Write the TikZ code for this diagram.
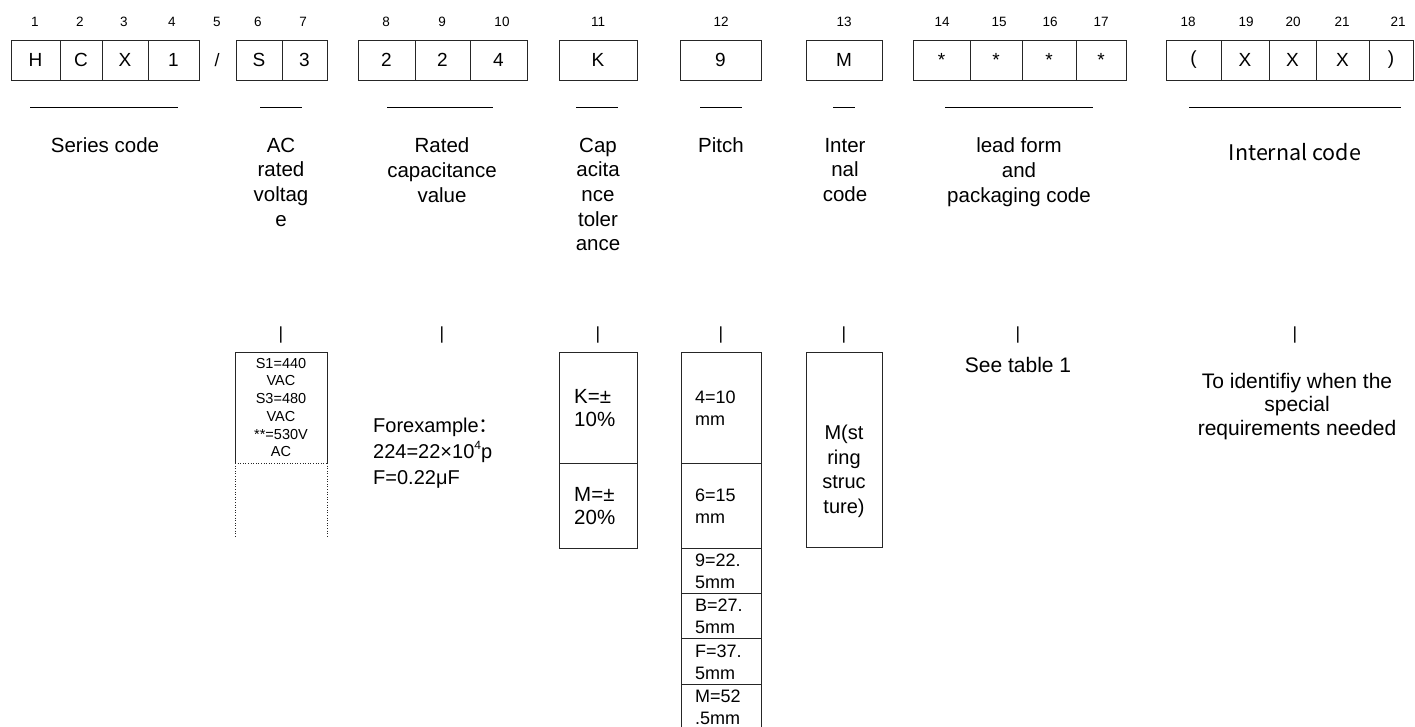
\documentclass[tikz,border=0pt]{standalone}
\usepackage{fontspec}
\setmainfont{Liberation Sans}
\newfontfamily\cjkfont{Noto Sans CJK SC}
\begin{document}
\begin{tikzpicture}[x=1pt,y=-1pt,
  cell/.style={draw=black!85, line width=0.8pt, minimum height=40pt, inner sep=0pt, font=\fontsize{19}{19}\selectfont},
  num/.style={inner sep=0pt, font=\fontsize{13.5}{13.5}\selectfont},
  lbl/.style={inner sep=0pt, anchor=north, align=center, font=\fontsize{20.5}{24.6}\selectfont},
  uline/.style={line width=0.8pt, black},
  bar/.style={inner sep=0pt, font=\fontsize{17.5}{17.5}\selectfont},
  frame/.style={draw=black!85, line width=0.8pt},
  dotframe/.style={draw=black!85, line width=0.6pt, dotted},
  boxtxt/.style={inner sep=0pt, anchor=west, align=left, font=\fontsize{20.5}{23.5}\selectfont},
  pitchtxt/.style={inner sep=0pt, anchor=west, align=left, font=\fontsize{18}{22}\selectfont}
]
\useasboundingbox (0,0) rectangle (1415,727);
\clip (0,0) rectangle (1415,727);

% position numbers
\node[num] (n1) at (35,22) {1};
\node[num] (n2) at (80,22) {2};
\node[num] (n3) at (124,22) {3};
\node[num] (n4) at (172,22) {4};
\node[num] (n5) at (217,22) {5};
\node[num] (n6) at (258,22) {6};
\node[num] (n7) at (303,22) {7};
\node[num] (n8) at (386,22) {8};
\node[num] (n9) at (442,22) {9};
\node[num] (n10) at (502,22) {10};
\node[num] (n11) at (598,22) {11};
\node[num] (n12) at (721,22) {12};
\node[num] (n13) at (844,22) {13};
\node[num] (n14) at (942,22) {14};
\node[num] (n15) at (999,22) {15};
\node[num] (n16) at (1050,22) {16};
\node[num] (n17) at (1101,22) {17};
\node[num] (n18) at (1188,22) {18};
\node[num] (n19) at (1246,22) {19};
\node[num] (n20) at (1293,22) {20};
\node[num] (n21) at (1342,22) {21};
\node[num] (n22) at (1398,22) {21};

% code cells
\node[cell, minimum width=49pt] (c1) at (35.5,60) {H};
\node[cell, minimum width=42pt] (c2) at (81,60) {C};
\node[cell, minimum width=46pt] (c3) at (125,60) {X};
\node[cell, minimum width=51pt] (c4) at (173.5,60) {1};
\node[inner sep=0pt, font=\fontsize{18}{18}\selectfont] (c5) at (217,60) {/};
\node[cell, minimum width=46pt] (c6) at (259,60) {S};
\node[cell, minimum width=45pt] (c7) at (304.5,60) {3};
\node[cell, minimum width=57pt] (c8) at (386.5,60) {2};
\node[cell, minimum width=55pt] (c9) at (442.5,60) {2};
\node[cell, minimum width=57pt] (c10) at (498.5,60) {4};
\node[cell, minimum width=78pt] (c11) at (598,60) {K};
\node[cell, minimum width=81pt] (c12) at (720.5,60) {9};
\node[cell, minimum width=76pt] (c13) at (844,60) {M};
\node[cell, minimum width=57pt] (c14) at (941.5,60) {*};
\node[cell, minimum width=52pt] (c15) at (996,60) {*};
\node[cell, minimum width=54pt] (c16) at (1049,60) {*};
\node[cell, minimum width=50pt] (c17) at (1101,60) {*};
\node[cell, minimum width=55pt] (c18) at (1193.5,60) {(};
\node[cell, minimum width=48pt] (c19) at (1245,60) {X};
\node[cell, minimum width=47pt] (c20) at (1292.5,60) {X};
\node[cell, minimum width=53pt] (c21) at (1342.5,60) {X};
\node[cell, minimum width=44pt] (c22) at (1391,60) {)};

% underlines
\draw[uline] (30,107) -- (178,107);
\draw[uline] (260,107) -- (302,107);
\draw[uline] (387,107) -- (493,107);
\draw[uline] (576,107) -- (618,107);
\draw[uline] (700,107) -- (742,107);
\draw[uline] (833,107) -- (855,107);
\draw[uline] (945,107) -- (1093,107);
\draw[uline] (1189,107) -- (1401,107);

% labels
\node[lbl] (l1) at (105,137.8) {Series code};
\node[lbl] (l2) at (281,137.8) {AC\\rated\\voltag\\e};
\node[lbl] (l3) at (442,137.8) {Rated\\capacitance\\value};
\node[lbl] (l4) at (598,137.8) {Cap\\acita\\nce\\toler\\ance};
\node[lbl] (l5) at (721,137.8) {Pitch};
\node[lbl] (l6) at (845,137.8) {Inter\\nal\\code};
\node[lbl] (l7) at (1019,137.8) {lead form\\and\\packaging code};
\node[inner sep=0pt, font=\cjkfont\fontsize{21.5}{24}\selectfont] (l8) at (1295,152) {Internal code};

% bars
\node[bar] (b1) at (281,335.5) {|};
\node[bar] (b2) at (442,335.5) {|};
\node[bar] (b3) at (598,335.5) {|};
\node[bar] (b4) at (721,335.5) {|};
\node[bar] (b5) at (844,335.5) {|};
\node[bar] (b6) at (1018,335.5) {|};
\node[bar] (b7) at (1295,335.5) {|};

% AC rated voltage box
\draw[frame] (235,463) -- (235,352) -- (327,352) -- (327,463);
\draw[dotframe] (235,463) -- (327,463);
\draw[dotframe] (235,463) -- (235,537);
\draw[dotframe] (327,463) -- (327,537);
\node[inner sep=0pt, align=center, font=\fontsize{14.5}{17.7}\selectfont] (v1) at (281,407.5) {S1=440\\VAC\\S3=480\\VAC\\**=530V\\AC};

% Rated capacitance example
\node[inner sep=0pt, anchor=north west, align=left, font=\fontsize{20}{26}\selectfont] (ex) at (373,417.8) {Forexample{\cjkfont ：}\\224=22×10\raisebox{0.45em}{\fontsize{12}{12}\selectfont 4}p\\F=0.22μF};

% Tolerance box
\draw[frame] (559,352) rectangle (637,548);
\draw[frame] (559,463) -- (637,463);
\node[boxtxt] (k1) at (574,408) {K=±\\10\%};
\node[boxtxt] (k2) at (574,506) {M=±\\20\%};

% Pitch box
\draw[frame] (681,352) rectangle (761,740);
\draw[frame] (681,463) -- (761,463);
\draw[frame] (681,548) -- (761,548);
\draw[frame] (681,593) -- (761,593);
\draw[frame] (681,638) -- (761,638);
\draw[frame] (681,684) -- (761,684);
\node[pitchtxt] (p1) at (695,408.5) {4=10\\mm};
\node[pitchtxt] (p2) at (695,506.5) {6=15\\mm};
\node[pitchtxt] (p3) at (695,571) {9=22.\\5mm};
\node[pitchtxt] (p4) at (695,616) {B=27.\\5mm};
\node[pitchtxt] (p5) at (695,662) {F=37.\\5mm};
\node[pitchtxt] (p6) at (695,707.5) {M=52\\.5mm};

% Internal code box
\draw[frame] (806,352) rectangle (882,547);
\node[inner sep=0pt, align=center, font=\fontsize{20}{24.5}\selectfont] (m1) at (844,471.5) {M(st\\ring\\struc\\ture)};

% lead form text
\node[inner sep=0pt, font=\fontsize{21}{21}\selectfont] (t1) at (1018,365) {See table 1};

% special requirements
\node[inner sep=0pt, align=center, font=\fontsize{21}{23.5}\selectfont] (s1) at (1297,406.5) {To identifiy when the\\special\\requirements needed};
\end{tikzpicture}
\end{document}
